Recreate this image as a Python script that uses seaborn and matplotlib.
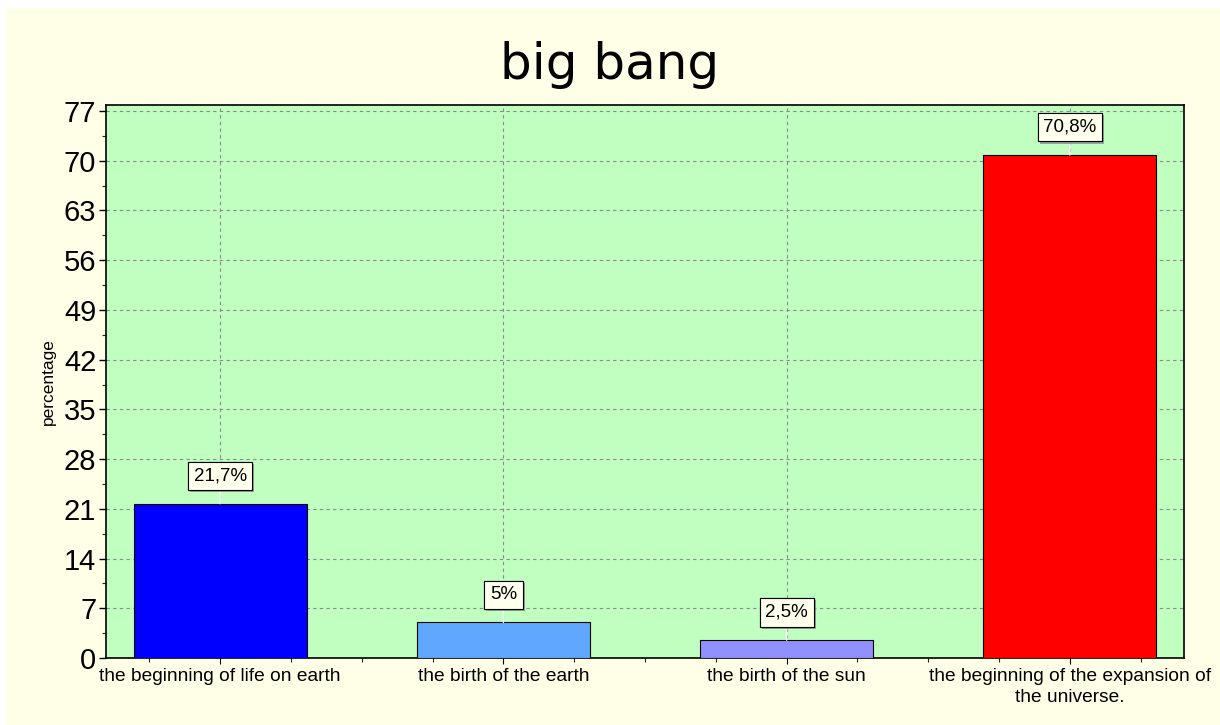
import matplotlib
matplotlib.use("Agg")
import matplotlib.pyplot as plt
import matplotlib.patheffects as pe
from matplotlib.ticker import MultipleLocator, FixedLocator
import seaborn as sns
import pandas as pd

categories = ["the beginning of life on earth", "the birth of the earth",
              "the birth of the sun", "the beginning of the expansion of\nthe universe."]
values = [21.7, 5.0, 2.5, 70.8]
value_labels = ["21,7%", "5%", "2,5%", "70,8%"]
colors = ["#0000FF", "#60A8FF", "#9090FF", "#FF0000"]
y_ticks = [0, 7, 14, 21, 28, 35, 42, 49, 56, 63, 70, 77]

sns.set_theme(style="white")
plt.rcParams['font.family'] = ['Liberation Sans', 'DejaVu Sans']

fig = plt.figure(figsize=(12.2, 7.25), dpi=100, facecolor="#FFFFE8")
# white strips at top and left
fig.patches.append(plt.Rectangle((0, 1 - 8/725), 1, 8/725, transform=fig.transFigure,
                                 facecolor="white", edgecolor="none", zorder=-10))
fig.patches.append(plt.Rectangle((0, 0), 6/1220, 1, transform=fig.transFigure,
                                 facecolor="white", edgecolor="none", zorder=-10))
ax = fig.add_axes([106/1220, 1 - 658/725, (1184 - 106)/1220, (658 - 105)/725])
ax.set_facecolor("#C0FFC0")

df = pd.DataFrame({"cat": categories, "val": values})
sns.barplot(data=df, x="cat", y="val", hue="cat", palette=colors, legend=False,
            saturation=1, width=0.61, edgecolor="black", linewidth=0.8, ax=ax, zorder=3)

ax.set_xlim(-0.403, 3.403)
ax.set_ylim(0, 77.85)
ax.yaxis.set_major_locator(FixedLocator(y_ticks))
ax.yaxis.set_minor_locator(MultipleLocator(3.5))
ax.xaxis.set_minor_locator(MultipleLocator(0.25))
ax.grid(True, which="major", linestyle=(0, (3, 3)), color="#8a8a8a", linewidth=0.8, zorder=0)
ax.set_axisbelow(True)
ax.tick_params(axis="y", which="major", labelsize=21, length=5, width=1, direction="out", left=True, pad=2, colors="black")
ax.tick_params(axis="y", which="minor", length=3, width=0.8, left=True)
ax.tick_params(axis="x", which="major", labelsize=13.8, length=4, width=0.8, bottom=True, pad=3, colors="black")
ax.tick_params(axis="x", which="minor", length=3, width=0.8, bottom=True)
for lab in ax.get_xticklabels():
    lab.set_ha("center")
    lab.set_multialignment("center")
    lab.set_linespacing(1.35)
ax.set_xlabel("")
ax.set_ylabel("percentage", fontsize=12.5, labelpad=6, color="black")
for s in ax.spines.values():
    s.set_color("black")
    s.set_linewidth(1.2)
    s.set_visible(True)

for i, (v, t) in enumerate(zip(values, value_labels)):
    a = ax.annotate(t, xy=(i, v), xytext=(0, 20), textcoords="offset points",
                    ha="center", va="center", fontsize=13.5, color="black",
                    bbox=dict(boxstyle="square,pad=0.3", fc="#FFFFEE", ec="black", lw=0.8),
                    arrowprops=dict(arrowstyle="-", color="white", lw=1, shrinkA=0, shrinkB=0),
                    zorder=5)
    a.get_bbox_patch().set_path_effects([pe.withSimplePatchShadow(offset=(1.5, -1.5), shadow_rgbFace="gray", alpha=0.7), pe.Normal()])

fig.text(0.5, 1 - 65/725, "big bang", ha="center", va="center", fontsize=36,
         family=["DejaVu Sans"], color="black")

fig.savefig("out.png", dpi=100, facecolor=fig.get_facecolor())
